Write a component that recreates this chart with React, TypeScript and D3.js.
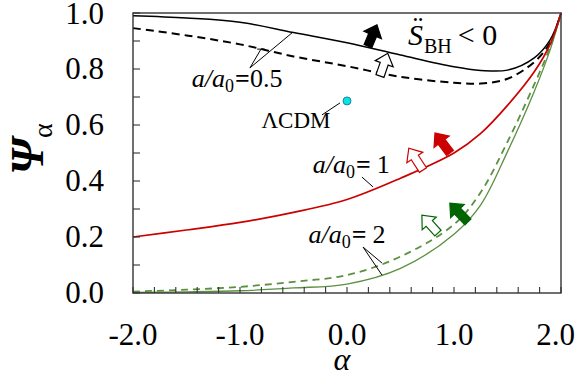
import React from "react";
import * as d3 from "d3";

// ---- data ----
const alphaGrid = [-2, -1.5, -1, -0.5, 0, 0.5, 1, 1.25, 1.5, 1.75, 1.9, 2];
const psiHalfSolid = [0.99, 0.982, 0.967, 0.93, 0.894, 0.85, 0.808, 0.795, 0.796, 0.84, 0.905, 1.0];
const psiHalfDashed = [0.946, 0.92, 0.888, 0.845, 0.81, 0.772, 0.751, 0.748, 0.765, 0.825, 0.895, 1.0];
const psiOne = [0.2, 0.225, 0.252, 0.288, 0.334, 0.41, 0.5, 0.57, 0.67, 0.79, 0.89, 1.0];
const psiTwoSolid = [0.002, 0.004, 0.008, 0.018, 0.032, 0.088, 0.21, 0.315, 0.505, 0.72, 0.87, 1.0];
const psiTwoDashed = [0.005, 0.012, 0.022, 0.04, 0.064, 0.13, 0.245, 0.36, 0.54, 0.745, 0.88, 1.0];

const lcdmPoint = { a: 0.0, p: 0.686 };

const xTickLabels = ["-2.0", "-1.0", "0.0", "1.0", "2.0"];
const xTicks = [-2, -1, 0, 1, 2];
const yTickLabels = ["0.0", "0.2", "0.4", "0.6", "0.8", "1.0"];
const yTicks = [0, 0.2, 0.4, 0.6, 0.8, 1.0];

const RED = "#cc0000";
const GREEN = "#5a9040";
const DKGREEN = "#006400";
const FONT = "'Liberation Serif', 'Times New Roman', Times, serif";

// arrows: base point (data), angle (deg, screen, 0=right, -90=up), filled?, color
const arrows = [
  { a: 0.196, p: 0.882, ang: -67, len: 23, fill: "#000", stroke: "#000" },
  { a: 0.308, p: 0.775, ang: -71, len: 24, fill: "#fff", stroke: "#000" },
  { a: 0.963, p: 0.5, ang: -127, len: 25, fill: RED, stroke: RED },
  { a: 0.71, p: 0.439, ang: -123, len: 26, fill: "#fff", stroke: RED },
  { a: 1.13, p: 0.254, ang: -134, len: 26, fill: DKGREEN, stroke: DKGREEN },
  { a: 0.85, p: 0.214, ang: -132, len: 24, fill: "#fff", stroke: DKGREEN },
];

export default function App() {
  const W = 577, H = 377;
  const m = { l: 133, t: 13, r: 16, b: 84 };
  const x = d3.scaleLinear().domain([-2, 2]).range([m.l, W - m.r]);
  const y = d3.scaleLinear().domain([0, 1]).range([H - m.b, m.t]);
  const line = d3
    .line<number>()
    .x((_, i) => x(alphaGrid[i]))
    .y((d) => y(d))
    .curve(d3.curveCatmullRom.alpha(0.5));

  const minorY = d3.range(0, 1.0001, 0.1);
  const minorX = d3.range(-2, 2.0001, 0.2);

  const arrowPath = (L: number) => {
    const sw = 4.2, hw = 9.5, hl = 11;
    return `M0,${-sw}L${L - hl},${-sw}L${L - hl},${-hw}L${L},0L${L - hl},${hw}L${L - hl},${sw}L0,${sw}Z`;
  };

  const P = (a: number, p: number) => [x(a), y(p)];

  const lbl05 = P(-1.45, 0.735);
  const lbl1 = P(-0.32, 0.43);
  const lbl2 = P(-0.36, 0.18);
  const lcdmLbl = P(-0.8, 0.59);
  const sLbl = P(0.57, 0.887);

  return (
    <svg
      width={W}
      height={H}
      style={{ position: "absolute", left: 0, top: 0, background: "#fff", fontFamily: FONT }}
      fontFamily={FONT}
    >
      <rect x={0} y={0} width={W} height={H} fill="#fff" />
      {/* curves */}
      <path d={line(psiHalfDashed)!} fill="none" stroke="#000" strokeWidth={2} strokeDasharray="8,5" />
      <path d={line(psiHalfSolid)!} fill="none" stroke="#000" strokeWidth={1.5} />
      <path d={line(psiTwoDashed)!} fill="none" stroke={GREEN} strokeWidth={1.8} strokeDasharray="7,5" />
      <path d={line(psiTwoSolid)!} fill="none" stroke={GREEN} strokeWidth={1.3} />
      <path d={line(psiOne)!} fill="none" stroke={RED} strokeWidth={1.7} />

      {/* frame */}
      <rect x={m.l} y={m.t} width={W - m.l - m.r} height={H - m.t - m.b} fill="none" stroke="#333" strokeWidth={1.4} />
      {minorY.map((v, i) => (
        <line key={"yt" + i} x1={x(-2)} x2={x(-2) + 7} y1={y(v)} y2={y(v)} stroke="#333" strokeWidth={1.1} />
      ))}
      {minorX.map((v, i) => (
        <line key={"xt" + i} x1={x(v)} x2={x(v)} y1={y(0)} y2={y(0) - 6} stroke="#333" strokeWidth={1.1} />
      ))}

      {/* tick labels */}
      {yTicks.map((v, i) => (
        <text key={"yl" + i} x={m.l - 29} y={y(v) + (i === yTicks.length - 1 ? 11 : 10)} textAnchor="end" fontSize={31}>
          {yTickLabels[i]}
        </text>
      ))}
      {xTicks.map((v, i) => (
        <text
          key={"xl" + i}
          x={i === xTicks.length - 1 ? W - 2 : x(v)}
          y={345}
          textAnchor={i === xTicks.length - 1 ? "end" : "middle"}
          fontSize={31}
        >
          {xTickLabels[i]}
        </text>
      ))}

      {/* axis titles */}
      <text x={342} y={370} textAnchor="middle" fontSize={32} fontStyle="italic">α</text>
      <text transform="translate(43,149) rotate(-90)" textAnchor="middle" fontSize={46}>
        <tspan fontStyle="italic" fontWeight="bold">Ψ</tspan>
        <tspan fontSize={28} dy={9}>α</tspan>
      </text>

      {/* arrows */}
      {arrows.map((ar, i) => {
        const [bx, by] = P(ar.a, ar.p);
        return (
          <path
            key={"ar" + i}
            d={arrowPath(ar.len)}
            transform={`translate(${bx},${by}) rotate(${ar.ang})`}
            fill={ar.fill}
            stroke={ar.stroke}
            strokeWidth={1.2}
            strokeLinejoin="miter"
          />
        );
      })}

      {/* a/a0 = 0.5 label */}
      <line x1={x(-0.907)} y1={y(0.804)} x2={x(-0.514)} y2={y(0.929)} stroke="#000" strokeWidth={1} />
      <line x1={x(-0.907)} y1={y(0.804)} x2={x(-0.804)} y2={y(0.871)} stroke="#000" strokeWidth={1} />
      <line x1={x(-0.84)} y1={y(0.871)} x2={x(-0.77)} y2={y(0.871)} stroke="#000" strokeWidth={1} />
      <text x={lbl05[0]} y={lbl05[1]} fontSize={26}>
        <tspan fontStyle="italic">a/a</tspan>
        <tspan fontSize={18} dy={5}>0</tspan>
        <tspan dy={-5} fontWeight="bold" dx={1}>=</tspan>
        <tspan>0.5</tspan>
      </text>

      {/* ΛCDM */}
      <line x1={x(-0.234)} y1={y(0.636)} x2={x(-0.065)} y2={y(0.679)} stroke="#000" strokeWidth={1} />
      <circle cx={x(lcdmPoint.a)} cy={y(lcdmPoint.p)} r={4} fill="#00e5f0" stroke="#1a6a7a" strokeWidth={0.8} />
      <text x={lcdmLbl[0]} y={lcdmLbl[1]} fontSize={23}>ΛCDM</text>

      {/* a/a0 = 1 */}
      <line x1={x(0.14)} y1={y(0.414)} x2={x(0.243)} y2={y(0.379)} stroke="#000" strokeWidth={1} />
      <text x={lbl1[0]} y={lbl1[1]} fontSize={26}>
        <tspan fontStyle="italic">a/a</tspan>
        <tspan fontSize={18} dy={5}>0</tspan>
        <tspan dy={-5} fontWeight="bold" dx={1}>=</tspan>
        <tspan dx={6}>1</tspan>
      </text>

      {/* a/a0 = 2 */}
      <line x1={x(0.15)} y1={y(0.164)} x2={x(0.327)} y2={y(0.107)} stroke="#000" strokeWidth={1} />
      <line x1={x(0.15)} y1={y(0.164)} x2={x(0.327)} y2={y(0.064)} stroke="#000" strokeWidth={1} />
      <text x={lbl2[0]} y={lbl2[1]} fontSize={26}>
        <tspan fontStyle="italic">a/a</tspan>
        <tspan fontSize={18} dy={5}>0</tspan>
        <tspan dy={-5} fontWeight="bold" dx={1}>=</tspan>
        <tspan dx={6}>2</tspan>
      </text>

      {/* S_BH < 0 */}
      <text x={sLbl[0]} y={sLbl[1]} fontSize={30}>
        <tspan fontStyle="italic">S</tspan>
        <tspan fontSize={20} dy={8} dx={1}>BH</tspan>
        <tspan dy={-8} dx={6}>&lt; 0</tspan>
      </text>
      <text x={sLbl[0] + 10} y={sLbl[1] - 8} fontSize={30} textAnchor="middle">¨</text>
    </svg>
  );
}
